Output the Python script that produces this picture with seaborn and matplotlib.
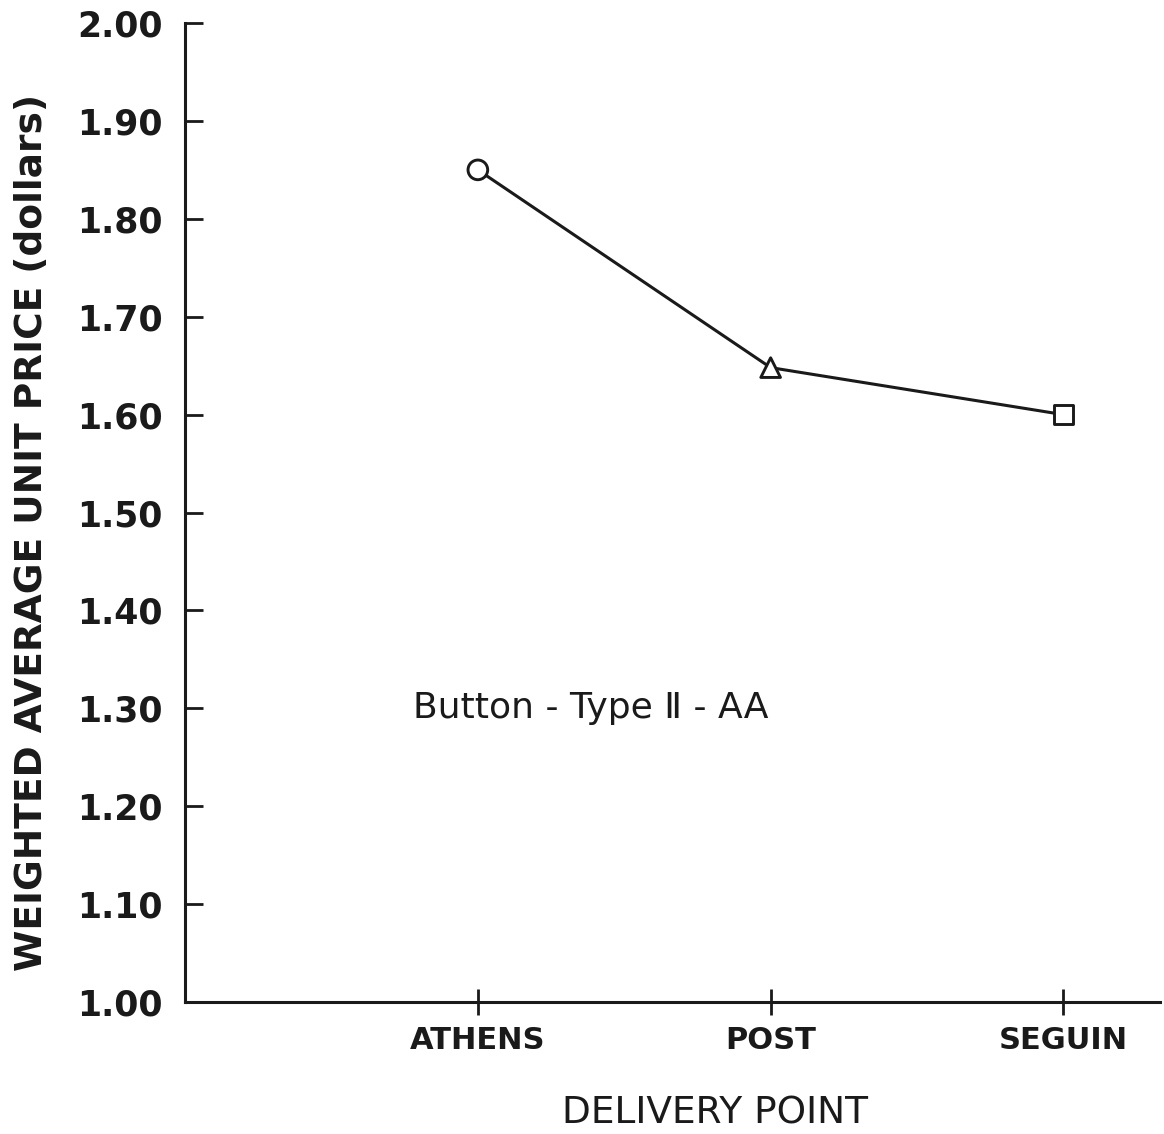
import matplotlib
matplotlib.use("Agg")
import matplotlib.pyplot as plt
import numpy as np
import pandas as pd
import seaborn as sns

# Delivery points and weighted average unit prices (dollars)
points = ["ATHENS", "POST", "SEGUIN"]
prices = [1.85, 1.648, 1.60]
marker_shapes = ["o", "^", "s"]

y_ticks = [1.00, 1.10, 1.20, 1.30, 1.40, 1.50, 1.60, 1.70, 1.80, 1.90, 2.00]
y_tick_labels = ["1.00", "1.10", "1.20", "1.30", "1.40", "1.50",
                 "1.60", "1.70", "1.80", "1.90", "2.00"]

df = pd.DataFrame({"pos": np.arange(len(points)), "point": points, "price": prices})

sns.set_theme(style="ticks")
plt.rcParams["font.family"] = ["DejaVu Sans"]

ink = "#1a1a1a"
fig = plt.figure(figsize=(11.64, 11.34), dpi=100)
ax = fig.add_axes([0.159, 0.1164, 0.8376, 0.8633])

sns.lineplot(data=df, x="pos", y="price", color=ink, linewidth=2.2, ax=ax,
             zorder=2, legend=False)
sns.scatterplot(data=df, x="pos", y="price", style="point",
                markers=dict(zip(points, marker_shapes)), s=200,
                color="white", edgecolor=ink, linewidth=2.1, ax=ax,
                zorder=3, legend=False)

ax.set_xlim(-1.0, 2.33)
ax.set_ylim(1.0, 2.0)
ax.set_xticks(df["pos"])
ax.set_xticklabels(points, fontsize=22, fontweight="bold", color=ink)
ax.set_yticks(y_ticks)
ax.set_yticklabels(y_tick_labels, fontsize=25, fontweight="bold", color=ink)

ax.tick_params(axis="y", direction="in", length=13, width=2.0, pad=16, colors=ink)
ax.tick_params(axis="x", direction="inout", length=19, width=2.0, pad=8, colors=ink)

for side in ["top", "right"]:
    ax.spines[side].set_visible(False)
for side in ["left", "bottom"]:
    ax.spines[side].set_linewidth(2.2)
    ax.spines[side].set_color(ink)

ax.set_xlabel("DELIVERY POINT", fontsize=27, color=ink)
ax.xaxis.set_label_coords(0.544, -0.096)
ax.set_ylabel("WEIGHTED AVERAGE UNIT PRICE (dollars)", fontsize=27,
              fontweight="bold", color=ink)
ax.yaxis.set_label_coords(-0.139, 0.48)

ax.text(-0.22, 1.30, "Button - Type Ⅱ - AA", fontsize=26, color=ink,
        ha="left", va="center")

fig.savefig("out.png", dpi=100, facecolor="white")
